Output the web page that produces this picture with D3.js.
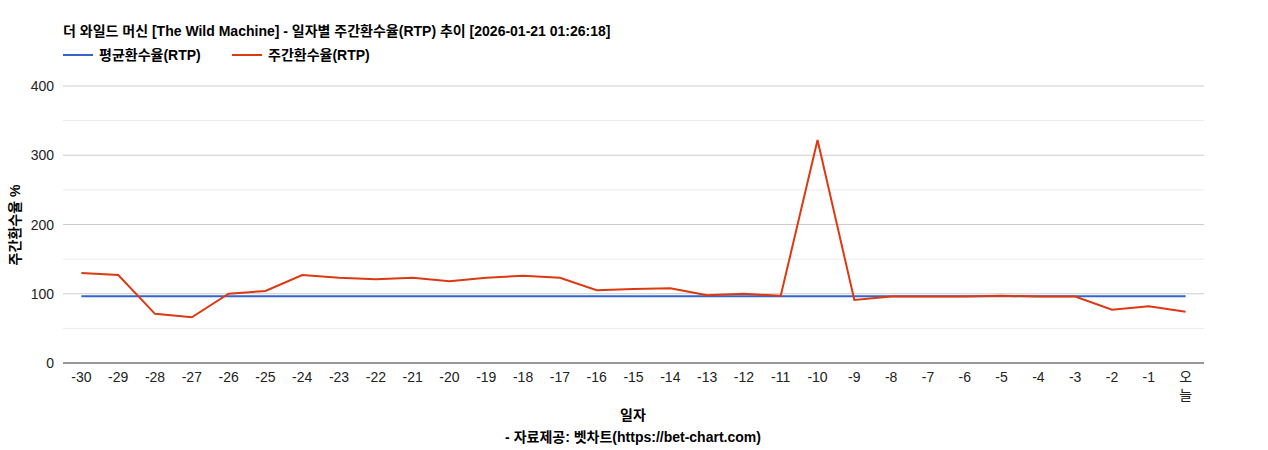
<!DOCTYPE html>
<html><head><meta charset="utf-8">
<script src="https://cdn.jsdelivr.net/npm/d3@7"></script>
<style>body{margin:0;background:#fff}</style>
</head><body><svg id="chart" width="1268" height="450"></svg>
<script>
const days = ['-30','-29','-28','-27','-26','-25','-24','-23','-22','-21','-20','-19','-18','-17','-16','-15','-14','-13','-12','-11','-10','-9','-8','-7','-6','-5','-4','-3','-2','-1','오늘'];
const weeklyRtp = [130,127,71,66,100,104,127,123,121,123,118,123,126,123,105,107,108,98,100,97,322,91,96,96,96,97,96,96,77,82,74];
const avgRtp = 96.5;
const yTicks = [0,100,200,300,400];

const svg = d3.select('#chart');
const font = 'Arial,"Liberation Sans","Noto Sans CJK KR",sans-serif';
const x = d3.scaleBand().domain(days).range([63,1204]);
const y = d3.scaleLinear().domain([0,400]).range([363,86]);

// grid
svg.append('g').selectAll('line').data(d3.range(50,400,100)).join('line')
  .attr('x1',63).attr('x2',1204).attr('y1',d=>y(d)).attr('y2',d=>y(d)).attr('stroke','#ebebeb');
svg.append('g').selectAll('line').data(yTicks.slice(1)).join('line')
  .attr('x1',63).attr('x2',1204).attr('y1',d=>y(d)).attr('y2',d=>y(d)).attr('stroke','#cccccc');
svg.append('line').attr('x1',63).attr('x2',1204).attr('y1',y(0)).attr('y2',y(0)).attr('stroke','#333');

svg.append('g').selectAll('text').data(yTicks).join('text')
  .attr('x',54).attr('y',d=>y(d)+5).attr('text-anchor','end')
  .attr('font-size',14).attr('font-family',font).attr('fill','#222').text(d=>d);

const xl = svg.append('g').selectAll('text').data(days).join('text')
  .attr('x',d=>x(d)+x.bandwidth()/2).attr('y',382).attr('text-anchor','middle')
  .attr('font-size',14).attr('font-family',font).attr('fill','#222');
xl.each(function(d){
  const t=d3.select(this);
  if(d==='오늘'){t.append('tspan').attr('x',x(d)+x.bandwidth()/2).text('오');
    t.append('tspan').attr('x',x(d)+x.bandwidth()/2).attr('dy',18).text('늘');}
  else t.text(d);
});

const cx = d=>x(d)+x.bandwidth()/2;
svg.append('path').datum(days).attr('fill','none').attr('stroke','#3366cc').attr('stroke-width',2)
  .attr('d',d3.line().x(cx).y(()=>y(avgRtp)));
svg.append('path').datum(days).attr('fill','none').attr('stroke','#dc3912').attr('stroke-width',2)
  .attr('d',d3.line().x(cx).y((d,i)=>y(weeklyRtp[i])));

svg.append('text').attr('x',63).attr('y',36).attr('font-size',14).attr('font-weight','bold')
  .attr('font-family',font).attr('fill','#000')
  .text('더 와일드 머신 [The Wild Machine] - 일자별 주간환수율(RTP) 추이 [2026-01-21 01:26:18]');

const legend = [['평균환수율(RTP)','#3366cc',63],['주간환수율(RTP)','#dc3912',232]];
legend.forEach(([t,c,lx])=>{
  svg.append('line').attr('x1',lx).attr('x2',lx+30).attr('y1',55).attr('y2',55).attr('stroke',c).attr('stroke-width',2);
  svg.append('text').attr('x',lx+36).attr('y',60).attr('font-size',14).attr('font-weight','bold')
    .attr('font-family',font).text(t);
});

svg.append('text').attr('x',633).attr('y',420).attr('text-anchor','middle').attr('font-size',14)
  .attr('font-weight','bold').attr('font-family',font).text('일자');
svg.append('text').attr('x',633).attr('y',442).attr('text-anchor','middle').attr('font-size',14)
  .attr('font-weight','bold').attr('font-family',font).text('- 자료제공: 벳차트(https://bet-chart.com)');
svg.append('text').attr('transform','translate(20,225) rotate(-90)').attr('text-anchor','middle')
  .attr('font-size',14).attr('font-weight','bold').attr('font-family',font).text('주간환수율 %');
</script></body></html>
